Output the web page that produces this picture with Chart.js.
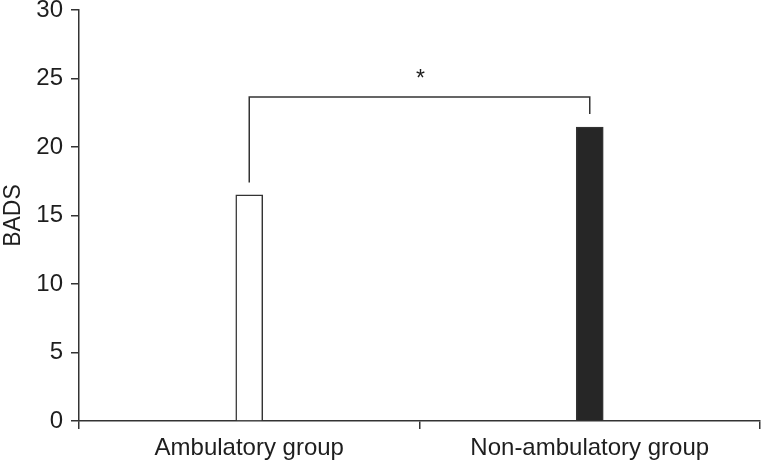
<!DOCTYPE html>
<html>
<head>
<meta charset="utf-8">
<script src="https://cdn.jsdelivr.net/npm/chart.js@4"></script>
<style>
  html, body { margin: 0; padding: 0; background: #fff; }
  #wrap { width: 762px; height: 462px; }
</style>
</head>
<body>
<div id="wrap"><canvas id="grafico"></canvas></div>
<script>
const grupos = ['Ambulatory group', 'Non-ambulatory group'];
const valoresBADS = [16.5, 21.45];
const coresBarras = ['#ffffff', '#262626'];
const ticksY = [0, 5, 10, 15, 20, 25, 30];

// bracket de significancia: altura da linha e fim de cada perna
const bracketTopo = 23.65;
const bracketPernas = [17.4, 22.4];
const bracketTexto = '*';

const corLinha = '#333333';
const corTexto = '#1e1e1e';
const fonte = '"Liberation Sans", Arial, sans-serif';

const bracketPlugin = {
  id: 'bracket',
  afterDatasetsDraw(chart) {
    const ctx = chart.ctx;
    const x = chart.scales.x, y = chart.scales.y;
    const x1 = x.getPixelForValue(0), x2 = x.getPixelForValue(1);
    const yt = y.getPixelForValue(bracketTopo);
    ctx.save();
    ctx.strokeStyle = corLinha;
    ctx.lineWidth = 1.5;
    ctx.beginPath();
    ctx.moveTo(x1, y.getPixelForValue(bracketPernas[0]));
    ctx.lineTo(x1, yt);
    ctx.lineTo(x2, yt);
    ctx.lineTo(x2, y.getPixelForValue(bracketPernas[1]));
    ctx.stroke();
    ctx.fillStyle = corTexto;
    ctx.font = '23px ' + fonte;
    ctx.textAlign = 'center';
    ctx.textBaseline = 'middle';
    ctx.fillText(bracketTexto, (x1 + x2) / 2 + 1, yt - 17);
    ctx.restore();
  }
};

const ctx = document.getElementById('grafico').getContext('2d');
new Chart(ctx, {
  type: 'bar',
  data: {
    labels: grupos,
    datasets: [{
      data: valoresBADS,
      backgroundColor: coresBarras,
      borderColor: corLinha,
      borderWidth: 1.5,
      barThickness: 27
    }]
  },
  options: {
    responsive: true,
    maintainAspectRatio: false,
    animation: false,
    layout: { padding: { top: 10, right: 2, left: 0, bottom: 0 } },
    plugins: {
      legend: { display: false },
      tooltip: { enabled: false }
    },
    scales: {
      x: {
        afterFit: s => { s.height = 41; s.paddingLeft = 0; s.paddingRight = 0; },
        grid: {
          offset: true,
          drawOnChartArea: false,
          tickLength: 8,
          color: corLinha,
          lineWidth: 1.5
        },
        border: { color: corLinha, width: 1.5 },
        ticks: {
          color: corTexto,
          padding: 5,
          font: { family: fonte, size: 24 }
        }
      },
      y: {
        min: 0,
        max: 30,
        afterFit: s => { s.width = 79; s.paddingTop = 0; s.paddingBottom = 0; },
        afterBuildTicks: s => { s.ticks = ticksY.map(v => ({ value: v })); },
        grid: {
          drawOnChartArea: false,
          tickLength: 8,
          color: corLinha,
          lineWidth: 1.5
        },
        border: { color: corLinha, width: 1.5 },
        ticks: {
          color: corTexto,
          padding: 8,
          font: { family: fonte, size: 24 }
        },
        title: {
          display: true,
          text: 'BADS',
          color: corTexto,
          padding: 0,
          font: { family: fonte, size: 23 }
        }
      }
    }
  },
  plugins: [bracketPlugin]
});
</script>
</body>
</html>
